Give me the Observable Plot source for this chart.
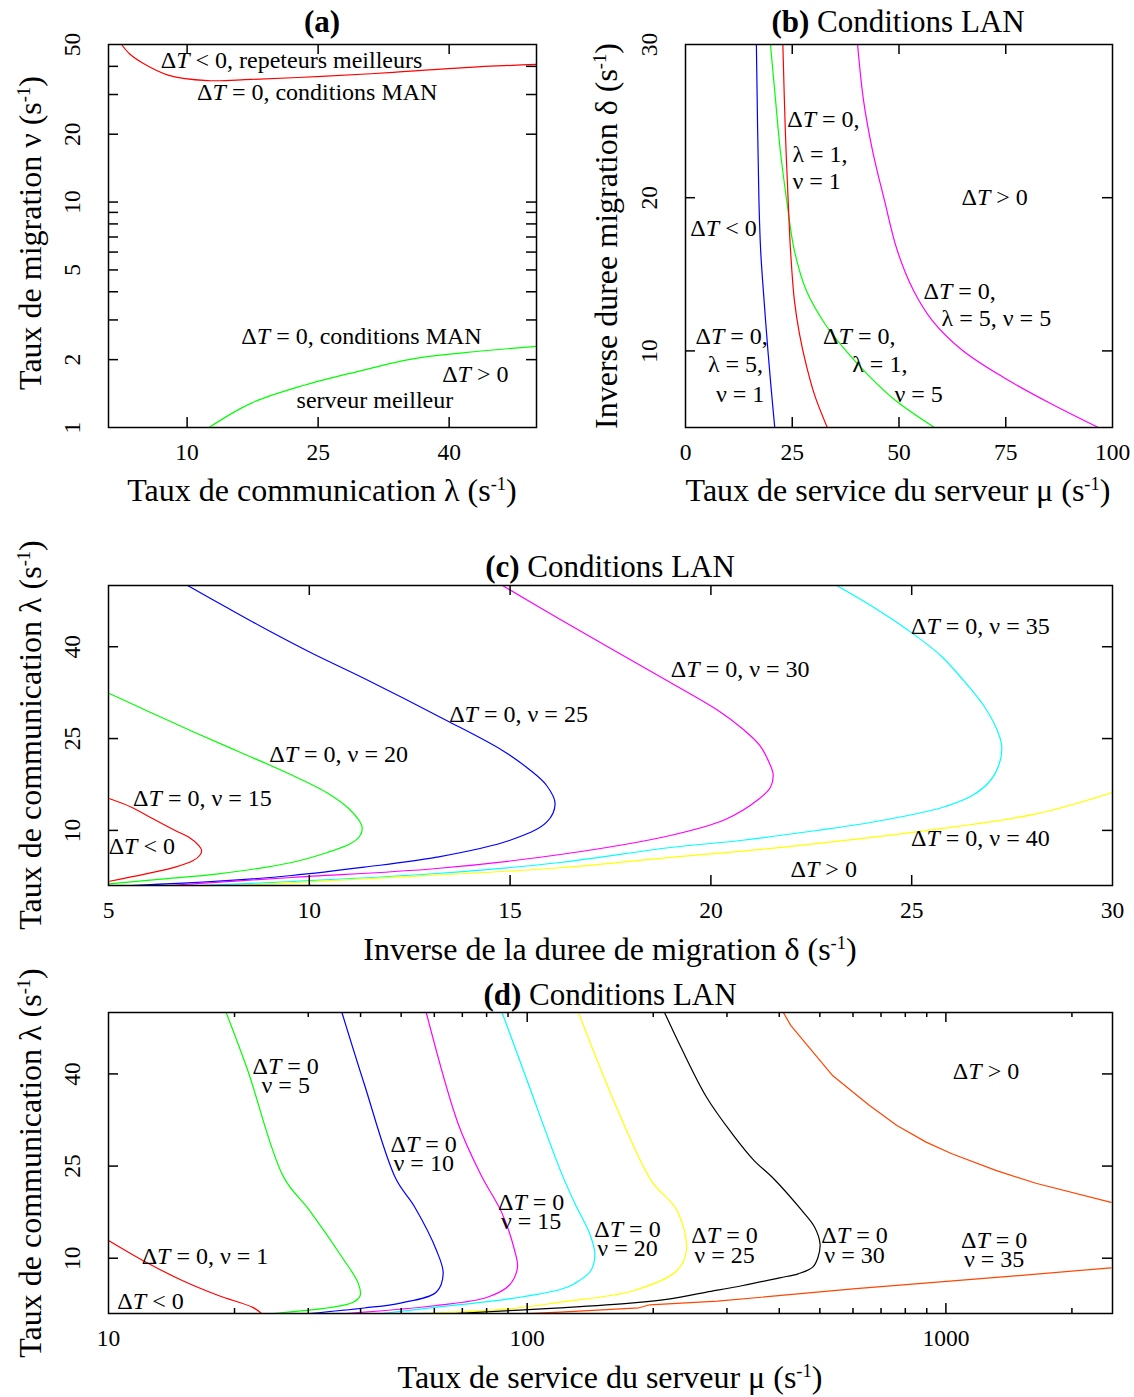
<!DOCTYPE html>
<html><head><meta charset="utf-8">
<script src="https://cdn.jsdelivr.net/npm/d3@7"></script>
<script src="https://cdn.jsdelivr.net/npm/@observablehq/plot@0.6"></script>
<style>
body{margin:0;background:#fff;}
#root{position:relative;width:1134px;height:1397px;font-family:"Liberation Serif","Times New Roman",serif;color:#000;background:#fff;overflow:hidden;}
.p{position:absolute;}
.lbl{position:absolute;white-space:nowrap;transform:translate(-50%,-50%);font-size:32px;line-height:1;}
.lbl.rot{transform:translate(-50%,-50%) rotate(-90deg);}
.lbl sup{font-size:58%;vertical-align:0.6em;line-height:0;}
.ttl{font-size:31px;}
</style></head><body><div id="root"></div>
<script>
// ---------------- Panel (a) data ----------------
const aXTickLabels = [10, 25, 40];
const aYTickLabels = [1, 2, 5, 10, 20, 50];
const aYTicks = [2, 3, 4, 5, 6, 7, 8, 9, 10, 20, 30, 40];
const aRed = [[2.5,50],[3.4,45.5],[5.0,41.2],[7.9,36.5],[12.3,34.6],[17.3,35.0],[25.4,36.1],[33.6,37.6],[41.8,39.5],[50,40.8]];
const aGreen = [[12.5,1.0],[17.3,1.28],[23.4,1.54],[29.5,1.77],[36.0,2.02],[41.8,2.15],[50,2.29]];
const aNotes = [
  {t:"ΔT < 0, repeteurs meilleurs", x:21.95, y:41.6},
  {t:"ΔT = 0, conditions MAN", x:24.9, y:30.0},
  {t:"ΔT = 0, conditions MAN", x:29.97, y:2.48},
  {t:"ΔT > 0", x:43.0, y:1.68},
  {t:"serveur meilleur", x:31.5, y:1.29}
];

// ---------------- Panel (b) data ----------------
const bXTickLabels = [0, 25, 50, 75, 100];
const bXTicks = [25, 50, 75];
const bYTickLabels = [10, 20, 30];
const bYTicks = [10, 20];
const bBlue = [[16.6,30],[17.2,19.8],[17.6,16.55],[18.4,13.3],[19.3,10.03],[20.1,7.42],[20.9,5.0]];
const bGreen = [[19.9,30],[21.1,26.34],[22.2,23.08],[23.7,19.82],[25.5,16.55],[28.3,13.94],[32.6,11.79],[37.5,10.03],[42.9,8.39],[49.2,6.76],[58.3,5.0]];
const bRed = [[22.8,30],[23.4,24.2],[24.2,18.8],[24.6,16.55],[25.5,13.3],[26.7,11.1],[28.4,8.94],[30.4,6.98],[33.2,5.0]];
const bMagenta = [[40.3,30],[41.7,26.34],[43.8,23.08],[46.6,19.82],[49.6,16.55],[53.4,13.94],[57.8,11.98],[64.9,10.03],[74.9,8.2],[85.5,6.57],[96.7,5.0]];
const bNotes = [
  {t:"ΔT = 0,", x:32.3, y:24.93},
  {t:"λ = 1,", x:31.5, y:22.64},
  {t:"ν = 1", x:30.7, y:20.9},
  {t:"ΔT > 0", x:72.4, y:19.86},
  {t:"ΔT < 0", x:8.9, y:17.86},
  {t:"ΔT = 0,", x:64.2, y:13.73},
  {t:"λ = 5, ν = 5", x:72.8, y:11.98},
  {t:"ΔT = 0,", x:10.8, y:10.79},
  {t:"λ = 5,", x:11.7, y:8.94},
  {t:"ν = 1", x:12.8, y:6.98},
  {t:"ΔT = 0,", x:40.7, y:10.79},
  {t:"λ = 1,", x:45.5, y:8.94},
  {t:"ν = 5", x:54.6, y:6.98}
];

// ---------------- Panel (c) data ----------------
const cXTickLabels = [5, 10, 15, 20, 25, 30];
const cXTicks = [10, 15, 20, 25];
const cYTickLabels = [10, 25, 40];
const cRed = [[5.03,15.16],[5.57,13.79],[6.11,11.89],[6.66,9.98],[7.02,8.79],[7.25,7.53],[7.32,6.72],[7.27,5.9],[7.11,5.08],[6.66,3.99],[5.93,2.91],[5.03,1.70]];
const cGreen = [[5.02,32.36],[6.05,29.26],[7.12,26.07],[8.29,22.73],[9.48,19.29],[10.43,16.19],[10.98,13.58],[11.27,11.29],[11.32,10.31],[11.25,9.0],[11.03,7.86],[10.45,6.39],[9.56,4.76],[7.74,2.91],[6.39,2.09],[5.02,1.28]];
const cBlue = [[6.97,50],[7.99,46.24],[9.03,42.48],[10.08,38.89],[11.37,34.81],[13.37,28.12],[14.81,23.05],[15.51,19.78],[15.91,17.33],[16.12,14.39],[15.91,11.34],[14.98,8.35],[13.17,5.62],[11.37,3.99],[9.56,2.63],[7.74,1.70],[5.57,1.0]];
const cMagenta = [[14.81,50],[16.25,44.44],[18.99,34.15],[20.18,29.58],[20.81,26.47],[21.22,23.86],[21.45,21.09],[21.55,19.13],[21.48,17.0],[21.18,15.04],[20.36,11.78],[18.99,9.17],[16.25,6.06],[13.17,3.78],[9.56,2.31],[6.47,1.0]];
const cCyan = [[23.13,50],[24.02,46.57],[24.92,42.65],[25.72,38.57],[26.29,34.49],[26.79,30.4],[27.11,26.65],[27.24,23.87],[27.19,21.09],[26.96,18.15],[26.51,15.7],[25.84,13.9],[25.37,13.09],[23.97,11.29],[22.63,9.98],[20.74,8.35],[18.99,7.21],[16.25,4.76],[13.17,2.96],[9.56,1.65],[7.29,1.0]];
const cYellow = [[8.2,1.0],[11.4,2.1],[16.25,3.9],[19.0,5.6],[21.7,7.2],[25.4,10.0],[28.1,12.7],[30,16.2]];
const cNotes = [
  {t:"ΔT = 0, ν = 15", x:7.34, y:14.88},
  {t:"ΔT < 0", x:5.83, y:7.0},
  {t:"ΔT = 0, ν = 20", x:10.73, y:21.96},
  {t:"ΔT = 0, ν = 25", x:15.21, y:28.6},
  {t:"ΔT = 0, ν = 30", x:20.73, y:35.84},
  {t:"ΔT = 0, ν = 35", x:26.71, y:42.93},
  {t:"ΔT = 0, ν = 40", x:26.71, y:8.35},
  {t:"ΔT > 0", x:22.81, y:3.17}
];

// ---------------- Panel (d) data ----------------
const dXTickLabels = [10, 100, 1000];
const dXTicksMajor = [100, 1000];
const dXTicksMinor = [20,30,40,50,60,70,80,90,200,300,400,500,600,700,800,900,2000];
const dYTickLabels = [10, 25, 40];
const dRed = [[10,12.9],[12.3,9.35],[15.0,6.37],[18.3,3.93],[22.1,2.0],[23.2,1.0]];
const dGreen = [[19.1,50],[21.5,40.6],[26.2,23.2],[30.2,17.8],[36.1,10.2],[39.5,5.9],[39.9,3.9],[38.3,2.8],[34.0,2.0],[24.7,1.0]];
const dBlue = [[36.1,50],[40.8,38.4],[48.5,23.0],[53.9,18.3],[60.7,11.3],[63.0,7.5],[60.7,4.5],[49.8,2.7],[40.8,1.9],[30.2,1.0]];
const dMagenta = [[57.4,50],[68.4,31.9],[77.5,23.6],[87.1,17.3],[93.3,11.3],[94.8,8.5],[90.6,5.6],[80.3,3.65],[60.7,2.3],[36.9,1.0]];
const dCyan = [[87.1,50],[100,38.9],[120,24.3],[130,18.9],[141,14],[145,10.8],[142,8],[130,5.9],[120,4.9],[90.6,3.39],[60.8,2.03],[45,1.0]];
const dYellow = [[132.6,50],[162,35.2],[198,22.6],[228,17.8],[240,11.3],[228,8],[179,4.7],[120,2.84],[90.6,1.76],[55,1.0]];
const dBlack = [[212.8,50],[232.9,44.35],[268.2,36.21],[308.9,30.25],[348.3,25.9],[385.4,23.14],[452.8,17.77],[485.9,15.05],[500.5,12.35],[495.0,10.16],[480.8,8.54],[443.6,7.46],[401.2,6.81],[327.7,5.56],[268.2,4.47],[219.4,3.39],[179.1,2.74],[119.9,1.93],[67.1,1.0]];
const dOrangeUpper = [[409,50],[426,47.9],[537,39.7],[656,34.9],[764,31.6],[897,28.9],[1033,27.0],[1316,24.3],[1640,22.2],[2480,19.1]];
const dOrangeLower = [[100,1.0],[119.9,1.21],[184.9,1.93],[196.3,2.42],[284.9,3.0],[600,5.0],[1343,6.91],[2480,8.44]];
const dNotes = [
  {t:"ΔT = 0\nν = 5", x:26.5, y:39.3},
  {t:"ΔT = 0\nν = 10", x:56.6, y:26.6},
  {t:"ΔT = 0\nν = 15", x:102.2, y:17.2},
  {t:"ΔT = 0\nν = 20", x:173.6, y:12.75},
  {t:"ΔT = 0\nν = 25", x:296, y:11.7},
  {t:"ΔT = 0\nν = 30", x:605, y:11.7},
  {t:"ΔT = 0\nν = 35", x:1304, y:11.0},
  {t:"ΔT = 0, ν = 1", x:17.0, y:9.9},
  {t:"ΔT < 0", x:12.6, y:2.58},
  {t:"ΔT > 0", x:1247, y:40.0}
];

// ---------------- helpers ----------------
const root = document.getElementById("root");
const FONT = '"Liberation Serif","Times New Roman",serif';
const SVGNS = "http://www.w3.org/2000/svg";

function tickMarks(vals, axis, len, pw, ph) {
  const s = {stroke: "black", strokeWidth: 1.5};
  if (!vals.length) return [];
  if (axis === "x") return [
    Plot.tickX(vals, {x: d => d, insetTop: ph - len, ...s}),
    Plot.tickX(vals, {x: d => d, insetBottom: ph - len, ...s})
  ];
  return [
    Plot.tickY(vals, {y: d => d, insetRight: pw - len, ...s}),
    Plot.tickY(vals, {y: d => d, insetLeft: pw - len, ...s})
  ];
}

// Render the "T" of "ΔT" in italics (as in the reference)
function italicT(svg) {
  svg.querySelectorAll("text").forEach(t => {
    const lines = Array.from(t.querySelectorAll("tspan"));
    if (!lines.length) {
      const s = t.textContent, i = s.indexOf("ΔT");
      if (i < 0) return;
      t.textContent = "";
      t.append(s.slice(0, i + 1));
      const ts = document.createElementNS(SVGNS, "tspan");
      ts.setAttribute("font-style", "italic");
      ts.textContent = "T";
      t.append(ts);
      t.append(s.slice(i + 2));
      return;
    }
    lines.forEach(n => {
      const s = n.textContent, i = s.indexOf("ΔT");
      if (i < 0) return;
      n.textContent = s.slice(0, i + 1);
      const it = document.createElementNS(SVGNS, "tspan");
      it.setAttribute("font-style", "italic");
      it.textContent = "T";
      const rest = document.createElementNS(SVGNS, "tspan");
      rest.textContent = s.slice(i + 2);
      n.after(it, rest);
    });
  });
}

function panel(cfg) {
  const [mt, mr, mb, ml] = cfg.margin;
  const pw = cfg.width - ml - mr, ph = cfg.height - mt - mb;
  const marks = [];
  for (const c of cfg.curves) {
    marks.push(Plot.line(c.data, {x: d => d[0], y: d => d[1], stroke: c.color, strokeWidth: 1.2,
      curve: c.curve || "catmull-rom", clip: true}));
  }
  for (const t of cfg.ticks) marks.push(...tickMarks(t.vals, t.axis, t.len, pw, ph));
  marks.push(Plot.frame({stroke: "black", strokeWidth: 1.5}));
  marks.push(Plot.axisX(cfg.xLabels, {anchor: "bottom", tickSize: 0, tickPadding: 16, label: null,
    tickFormat: d => String(d), fontSize: 23.5}));
  marks.push(Plot.axisY(cfg.yLabels, {anchor: "left", tickSize: 0, tickPadding: 36, tickRotate: -90,
    textAnchor: "middle", lineAnchor: "middle", label: null, tickFormat: d => String(d), fontSize: 23.5}));
  marks.push(Plot.text(cfg.notes, {x: "x", y: "y", text: "t", fontSize: 24, lineHeight: 0.8,
    textAnchor: "middle", lineAnchor: "middle", dy: -1, fill: "black"}));
  const svg = Plot.plot({
    width: cfg.width, height: cfg.height,
    marginTop: mt, marginRight: mr, marginBottom: mb, marginLeft: ml,
    x: cfg.x, y: cfg.y,
    style: {fontFamily: FONT, fontSize: "23px", background: "transparent", color: "black", overflow: "visible"},
    marks
  });
  italicT(svg);
  const div = document.createElement("div");
  div.className = "p";
  div.style.left = cfg.left + "px";
  div.style.top = cfg.top + "px";
  div.appendChild(svg);
  root.appendChild(div);
}

function label(html, x, y, rot, cls) {
  const d = document.createElement("div");
  d.className = "lbl" + (rot ? " rot" : "") + (cls ? " " + cls : "");
  d.style.left = x + "px";
  d.style.top = y + "px";
  d.innerHTML = html;
  root.appendChild(d);
}

// ---------------- Panel (a) ----------------
panel({
  left: 0, top: 0, width: 560, height: 520, margin: [44, 24, 93, 108],
  x: {type: "linear", domain: [1, 50]},
  y: {type: "log", domain: [1, 50]},
  curves: [{data: aRed, color: "#ff0000"}, {data: aGreen, color: "#00ff00"}],
  ticks: [{vals: aXTickLabels, axis: "x", len: 10}, {vals: aYTicks, axis: "y", len: 10}],
  xLabels: aXTickLabels, yLabels: aYTickLabels, notes: aNotes
});

// ---------------- Panel (b) ----------------
panel({
  left: 560, top: 0, width: 574, height: 520, margin: [44, 22, 93, 125],
  x: {type: "linear", domain: [0, 100]},
  y: {type: "linear", domain: [5, 30]},
  curves: [{data: bBlue, color: "#0000ff"}, {data: bGreen, color: "#00ff00"}, {data: bRed, color: "#ff0000"}, {data: bMagenta, color: "#ff00ff"}],
  ticks: [{vals: bXTicks, axis: "x", len: 10}, {vals: bYTicks, axis: "y", len: 10}],
  xLabels: bXTickLabels, yLabels: bYTickLabels, notes: bNotes
});

// ---------------- Panel (c) ----------------
panel({
  left: 0, top: 530, width: 1134, height: 430, margin: [55, 22, 75, 108],
  x: {type: "linear", domain: [5, 30]},
  y: {type: "linear", domain: [1, 50]},
  curves: [{data: cRed, color: "#ff0000"}, {data: cGreen, color: "#00ff00"}, {data: cBlue, color: "#0000ff"},
           {data: cMagenta, color: "#ff00ff"}, {data: cCyan, color: "#00ffff"}, {data: cYellow, color: "#ffff00"}],
  ticks: [{vals: cXTicks, axis: "x", len: 10}, {vals: cYTickLabels, axis: "y", len: 10}],
  xLabels: cXTickLabels, yLabels: cYTickLabels, notes: cNotes
});

// ---------------- Panel (d) ----------------
panel({
  left: 0, top: 960, width: 1134, height: 437, margin: [52, 22, 84, 108],
  x: {type: "log", domain: [10, 2500]},
  y: {type: "linear", domain: [1, 50]},
  curves: [{data: dRed, color: "#ff0000"}, {data: dGreen, color: "#00ff00"}, {data: dBlue, color: "#0000ff"},
           {data: dMagenta, color: "#ff00ff"}, {data: dCyan, color: "#00ffff"}, {data: dYellow, color: "#ffff00"},
           {data: dBlack, color: "#000000"}, {data: dOrangeUpper, color: "#ff4500", curve: "linear"},
           {data: dOrangeLower, color: "#ff4500", curve: "linear"}],
  ticks: [{vals: dXTicksMajor, axis: "x", len: 10}, {vals: dXTicksMinor, axis: "x", len: 5}, {vals: dYTickLabels, axis: "y", len: 10}],
  xLabels: dXTickLabels, yLabels: dYTickLabels, notes: dNotes
});

// ---------------- titles and axis labels ----------------
label("<b>(a)</b>", 322, 21, false, "ttl");
label("<b>(b)</b> Conditions LAN", 898, 21, false, "ttl");
label("<b>(c)</b> Conditions LAN", 610, 566, false, "ttl");
label("<b>(d)</b> Conditions LAN", 610, 994, false, "ttl");

label("Taux de communication λ (s<sup>-1</sup>)", 322, 490);
label("Taux de service du serveur μ (s<sup>-1</sup>)", 898, 490);
label("Inverse de la duree de migration δ (s<sup>-1</sup>)", 610, 949);
label("Taux de service du serveur μ (s<sup>-1</sup>)", 610, 1377);

label("Taux de migration ν (s<sup>-1</sup>)", 30, 233, true);
label("Inverse duree migration δ (s<sup>-1</sup>)", 606, 236, true);
label("Taux de communication λ (s<sup>-1</sup>)", 30, 735, true);
label("Taux de communication λ (s<sup>-1</sup>)", 30, 1163, true);
</script></body></html>
